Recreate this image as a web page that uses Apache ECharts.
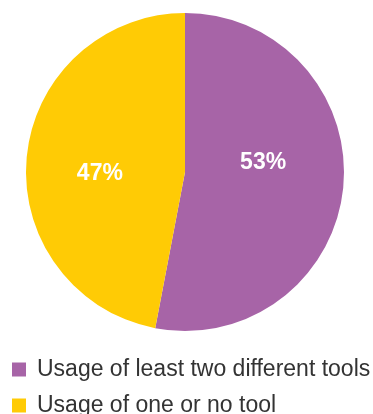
<!DOCTYPE html>
<html>
<head>
<meta charset="utf-8">
<style>
  html, body { margin: 0; padding: 0; background: #ffffff; }
  #chart { width: 373px; height: 414px; }
</style>
<script src="https://cdn.jsdelivr.net/npm/echarts@6/dist/echarts.min.js"></script>
</head>
<body>
<div id="chart"></div>
<script>
// Share of respondents by number of tools used
const categories = ['Usage of least two different tools', 'Usage of one or no tool'];
const shares = [53, 47];
const colors = ['#a764a7', '#ffcb05'];
const labelOffsets = [[-4, -17], [-3, 9]];

const chart = echarts.init(document.getElementById('chart'), null, { renderer: 'canvas' });

chart.setOption({
  animation: false,
  color: colors,
  legend: {
    orient: 'vertical',
    left: 7,
    top: 353,
    height: 120,
    itemWidth: 14,
    itemHeight: 14,
    itemGap: 13,
    icon: 'rect',
    selectedMode: false,
    data: categories,
    textStyle: {
      fontFamily: 'Liberation Sans, Arial, sans-serif',
      fontSize: 23,
      color: '#333333',
      padding: [0, 0, 0, 6]
    }
  },
  series: [{
    type: 'pie',
    center: [185, 172],
    radius: [0, 159],
    startAngle: 90,
    clockwise: true,
    silent: true,
    label: {
      position: 'inside',
      formatter: '{c}%',
      color: '#ffffff',
      fontFamily: 'Liberation Sans, Arial, sans-serif',
      fontWeight: 'bold',
      fontSize: 23
    },
    labelLine: { show: false },
    itemStyle: { borderWidth: 0 },
    data: categories.map((name, i) => ({
      name: name,
      value: shares[i],
      label: { offset: labelOffsets[i] }
    }))
  }]
});
</script>
</body>
</html>
